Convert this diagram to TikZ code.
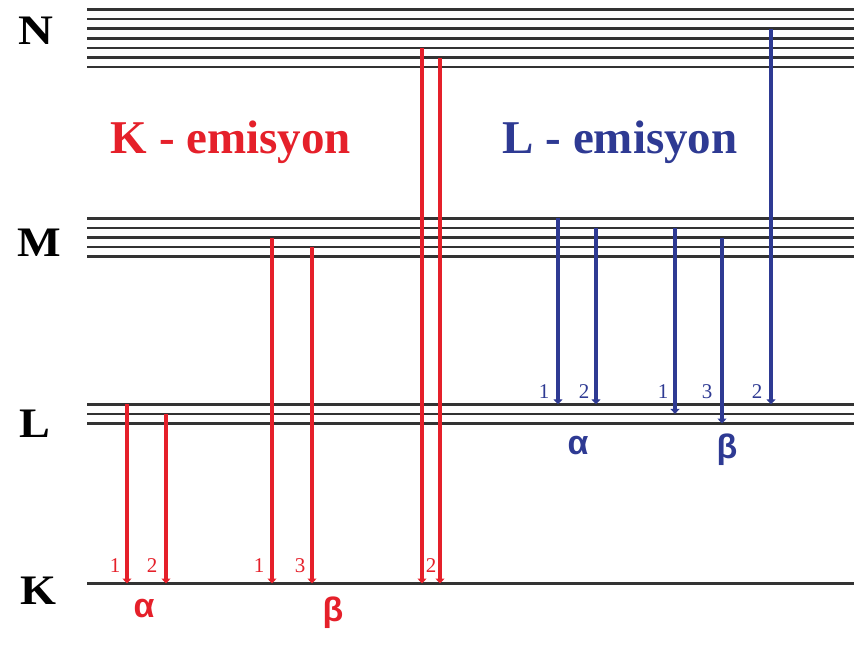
\documentclass[tikz,border=0pt]{standalone}
\usepackage{fontspec}
\setmainfont{Liberation Serif}
\newfontfamily\grk{Liberation Sans}
\usepackage{tikz}
\usetikzlibrary{arrows.meta}
\definecolor{redk}{HTML}{E5202A}
\definecolor{bluel}{HTML}{2E3A93}
\definecolor{lvlc}{HTML}{333333}
\tikzset{
  lvl/.style={draw=lvlc,line width=2.6pt},
  arK/.style={-{Triangle[length=5pt,width=9pt]},line width=4.5pt,redk},
  arL/.style={-{Triangle[length=5pt,width=9pt]},line width=4pt,bluel},
  shell/.style={font=\fontsize{42}{42}\selectfont\bfseries,anchor=base,inner sep=0pt},
  ttl/.style={font=\fontsize{47}{50}\selectfont\bfseries,anchor=base,inner sep=0pt},
  nr/.style={font=\fontsize{21}{21}\selectfont,inner sep=0pt},
  gr/.style={font=\fontsize{34}{34}\selectfont\grk\bfseries,inner sep=0pt}
}

\begin{document}
\begin{tikzpicture}[x=1pt,y=-1pt]
\useasboundingbox (0,0) rectangle (854,645);
% energy levels
\foreach \i in {0,...,6}{\draw[lvl] ({87},{9.5+9.6*\i}) -- ({854},{9.5+9.6*\i});}
\foreach \i in {0,...,4}{\draw[lvl] ({87},{218.3+9.6*\i}) -- ({854},{218.3+9.6*\i});}
\foreach \i in {0,...,2}{\draw[lvl] ({87},{404.3+9.6*\i}) -- ({854},{404.3+9.6*\i});}
\draw[lvl] (87,583.5) -- (854,583.5);
\node[shell] (shN) at (36,44) {\scalebox{1.15}[1]{N}};
\node[shell] (shM) at (39,256) {\scalebox{1.1}[1]{M}};
\node[shell] (shL) at (35,437) {\scalebox{1.1}[1]{L}};
\node[shell] (shK) at (38,604) {\scalebox{1.1}[1]{K}};
% K series
\foreach \nm/\xx/\yt in {ka1/127/404.3,ka2/166/413.9,kb1/272/237.5,kb3/312/247.1,kb2a/422/47.9,kb2b/440/57.5}{
  \coordinate (\nm t) at (\xx,\yt);
  \coordinate (\nm b) at (\xx,583.5);
  \draw[arK] (\nm t) -- (\nm b);
}
\node[ttl,redk] (ttlK) at (231,153) {K - emisyon};
\node[nr,redk] (nka1) at (115,566) {1};
\node[nr,redk] (nka2) at (152,566) {2};
\node[nr,redk] (nkb1) at (259,566) {1};
\node[nr,redk] (nkb3) at (300,566) {3};
\node[nr,redk] (nkb2) at (431,566) {2};
\node[gr,redk] (gka) at (144,609) {α};
\node[gr,redk] (gkb) at (333,613) {β};
% L series
\foreach \nm/\xx/\yt/\yb in {la1/558/218.3/404.3,la2/596/227.9/404.3,lb1/675/227.9/413.9,lb3/722/237.5/423.5,lb2/771/28.7/404.3}{
  \coordinate (\nm t) at (\xx,\yt);
  \coordinate (\nm b) at (\xx,\yb);
  \draw[arL] (\nm t) -- (\nm b);
}
\node[ttl,bluel] (ttlL) at (620,153) {L - emisyon};
\node[nr,bluel] (nla1) at (544,392) {1};
\node[nr,bluel] (nla2) at (584,392) {2};
\node[nr,bluel] (nlb1) at (663,392) {1};
\node[nr,bluel] (nlb3) at (707,392) {3};
\node[nr,bluel] (nlb2) at (757,392) {2};
\node[gr,bluel] (gla) at (578,446) {α};
\node[gr,bluel] (glb) at (727,450) {β};
\end{tikzpicture}
\end{document}
